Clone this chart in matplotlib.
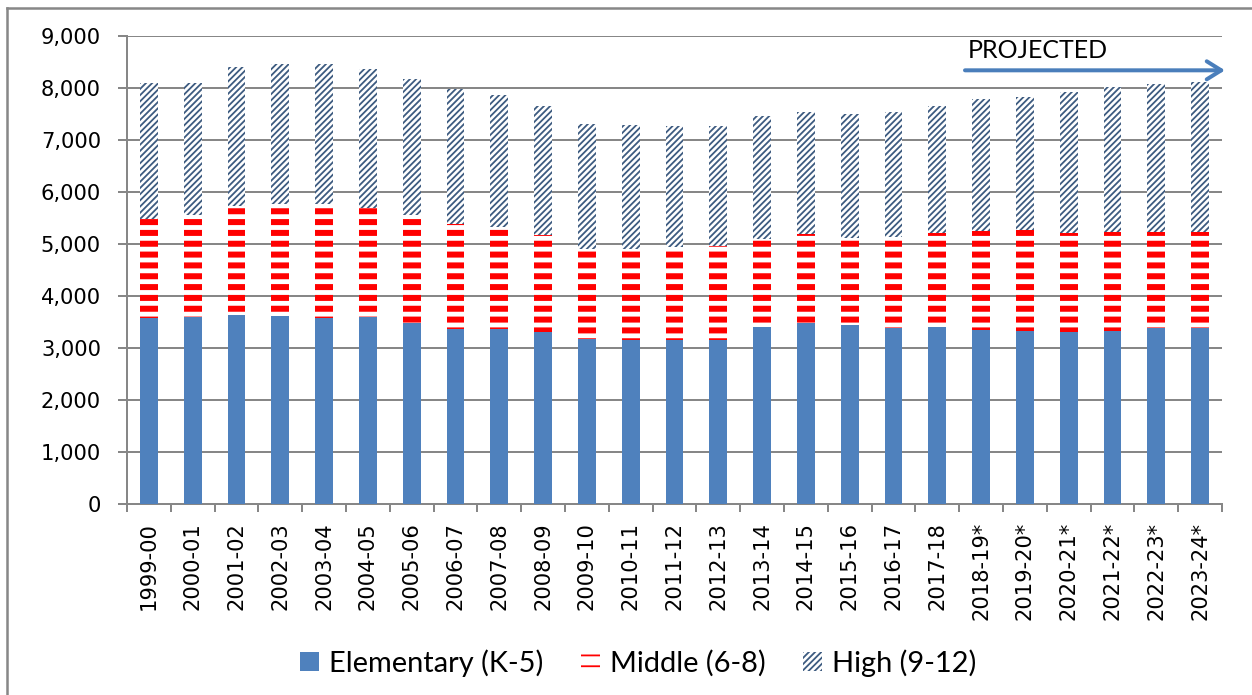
import matplotlib
matplotlib.use("Agg")
import matplotlib.pyplot as plt
import numpy as np
from matplotlib.lines import Line2D

# Enrollment by school level
years = ["1999-00", "2000-01", "2001-02", "2002-03", "2003-04", "2004-05", "2005-06",
         "2006-07", "2007-08", "2008-09", "2009-10", "2010-11", "2011-12", "2012-13",
         "2013-14", "2014-15", "2015-16", "2016-17", "2017-18", "2018-19*", "2019-20*",
         "2020-21*", "2021-22*", "2022-23*", "2023-24*"]
elementary = [3580, 3600, 3630, 3620, 3580, 3600, 3490, 3370, 3370, 3310, 3180, 3160, 3150,
              3160, 3410, 3480, 3440, 3390, 3400, 3350, 3330, 3310, 3330, 3390, 3390]
middle = [1910, 1960, 2100, 2150, 2190, 2100, 2070, 2010, 1960, 1860, 1720, 1740, 1800,
          1810, 1690, 1710, 1680, 1750, 1820, 1900, 1940, 1900, 1910, 1850, 1850]
high = [2600, 2540, 2670, 2700, 2690, 2670, 2620, 2600, 2540, 2480, 2400, 2380, 2310,
        2300, 2370, 2340, 2380, 2390, 2430, 2540, 2550, 2710, 2770, 2830, 2880]
first_projected = "2018-19*"

DPI = 130
W, H = 1252, 695


def pt(px):
    return px * 72 / DPI


fig = plt.figure(figsize=(W / DPI, H / DPI), dpi=DPI)
ax = fig.add_axes([127 / W, 1 - 504 / H, 1095 / W, 468 / H])

x = np.arange(len(years))
elem = np.array(elementary)
mid = np.array(middle)
hi = np.array(high)
width = 0.41

b1 = ax.bar(x, elem, width, color="#4F81BD", linewidth=0, label="Elementary (K-5)", zorder=3)
b2 = ax.bar(x, mid, width, bottom=elem, color="white", edgecolor="#FF0000", linewidth=0,
            hatch="--", label="Middle (6-8)", zorder=3)
b3 = ax.bar(x, hi, width, bottom=elem + mid, color="white", edgecolor="#3D5B80", linewidth=0,
            hatch="///////", label="High (9-12)", zorder=3)

for p in b2:
    p.set_hatch_linewidth(pt(6))
for p in b3:
    p.set_hatch_linewidth(pt(1.8))

# axes styling
gray = "#878787"
ax.set_ylim(0, 9000)
ax.set_xlim(-0.5, len(years) - 0.5)
ax.set_yticks(np.arange(0, 9001, 1000))
ax.set_yticklabels(["{:,}".format(v) for v in range(0, 9001, 1000)])
ax.yaxis.grid(True, color=gray, linewidth=pt(2))
ax.set_axisbelow(True)
ax.set_xticks(x)
ax.set_xticklabels(years, rotation=90)
ax.set_xticks(np.arange(-0.5, len(years), 1), minor=True)
ax.tick_params(axis="x", which="major", length=0, pad=pt(18), labelsize=pt(21))
ax.tick_params(axis="x", which="minor", length=pt(8), width=pt(2), color=gray, direction="out")
ax.tick_params(axis="y", length=pt(9), width=pt(2), color=gray, pad=pt(17), labelsize=pt(21))
for s in ["top", "right"]:
    ax.spines[s].set_visible(False)
for s in ["left", "bottom"]:
    ax.spines[s].set_color(gray)
    ax.spines[s].set_linewidth(pt(2))

# projected marker
p0 = years.index(first_projected)
ax.annotate("", xy=(len(years) - 0.35, 8340), xytext=(p0 - 0.45, 8340),
            arrowprops=dict(arrowstyle="->,head_length=0.8,head_width=0.5", color="#4A7EBB",
                            lw=pt(4)), annotation_clip=False)
ax.text(p0 + 1.3, 8720, "PROJECTED", family="Lato", fontsize=pt(25), ha="center", va="center")

fig.legend(handles=[b1, b2, b3], loc="center", bbox_to_anchor=(638 / W, 1 - 663 / H), ncol=3,
           frameon=False, prop={"family": "Lato", "size": pt(29)}, handlelength=0.65,
           handleheight=0.65, handletextpad=0.35, columnspacing=1.3)

# chart area border (top and left visible)
fig.add_artist(Line2D([7 / W, 7 / W], [0, 1 - 8 / H], color=gray, lw=pt(2.5), transform=fig.transFigure))
fig.add_artist(Line2D([7 / W, 1], [1 - 8 / H, 1 - 8 / H], color=gray, lw=pt(2.5), transform=fig.transFigure))

fig.savefig("out.png", dpi=DPI)
